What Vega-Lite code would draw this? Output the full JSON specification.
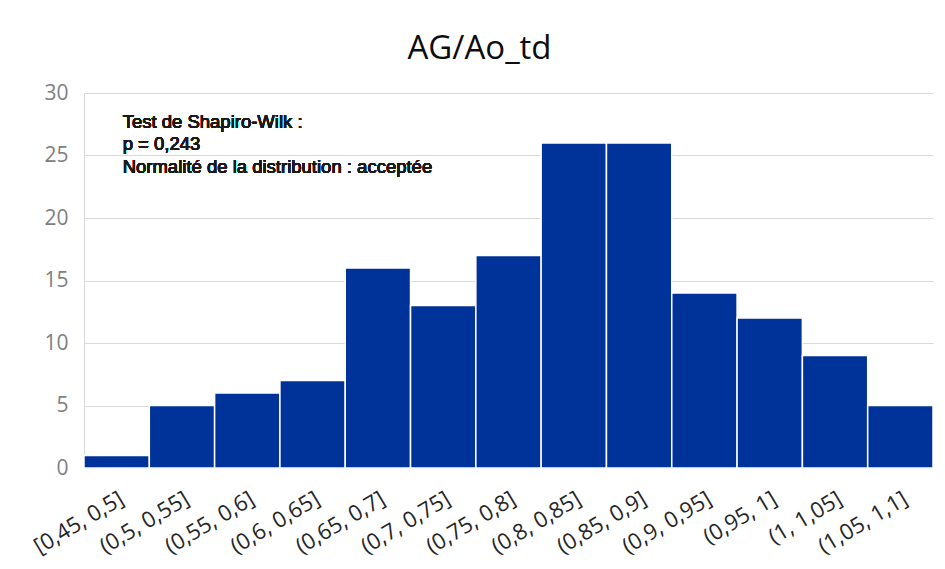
{
  "$schema": "https://vega.github.io/schema/vega-lite/v6.json",
  "width": 849,
  "height": 375,
  "autosize": {"type": "none"},
  "padding": {"left": 84, "top": 93, "right": 12, "bottom": 101},
  "background": "white",
  "title": {
    "text": "AG/Ao_td",
    "fontSize": 33,
    "font": "Open Sans",
    "fontWeight": "normal",
    "color": "#0d0d0d",
    "anchor": "middle",
    "offset": 16,
    "dx": -29
  },
  "config": {
    "view": {"stroke": null},
    "font": "Liberation Sans"
  },
  "data": {
    "values": [
      {"bin": "[0,45, 0,5]", "count": 1},
      {"bin": "(0,5, 0,55]", "count": 5},
      {"bin": "(0,55, 0,6]", "count": 6},
      {"bin": "(0,6, 0,65]", "count": 7},
      {"bin": "(0,65, 0,7]", "count": 16},
      {"bin": "(0,7, 0,75]", "count": 13},
      {"bin": "(0,75, 0,8]", "count": 17},
      {"bin": "(0,8, 0,85]", "count": 26},
      {"bin": "(0,85, 0,9]", "count": 26},
      {"bin": "(0,9, 0,95]", "count": 14},
      {"bin": "(0,95, 1]", "count": 12},
      {"bin": "(1, 1,05]", "count": 9},
      {"bin": "(1,05, 1,1]", "count": 5}
    ]
  },
  "layer": [
    {
      "mark": {"type": "bar", "color": "#003399", "stroke": "white", "strokeWidth": 1.5},
      "encoding": {
        "x": {
          "field": "bin",
          "type": "nominal",
          "sort": null,
          "scale": {"paddingInner": 0, "paddingOuter": 0},
          "axis": {
            "title": null,
            "labelAngle": -31,
            "labelFontSize": 22,
            "labelFont": "Open Sans",
            "labelColor": "#262626",
            "labelPadding": 20,
            "domain": false,
            "ticks": false
          }
        },
        "y": {
          "field": "count",
          "type": "quantitative",
          "scale": {"domain": [0, 30]},
          "axis": {
            "title": null,
            "values": [0, 5, 10, 15, 20, 25, 30],
            "labelFontSize": 21,
            "labelFont": "Open Sans",
            "labelColor": "#808080",
            "labelPadding": 16,
            "domain": true,
            "domainColor": "#d9d9d9",
            "domainWidth": 1,
            "ticks": false,
            "gridColor": "#d9d9d9",
            "gridWidth": 1
          }
        }
      }
    },
    {
      "mark": {
        "type": "text",
        "align": "left",
        "baseline": "middle",
        "fontSize": 18.5,
        "fontWeight": 400,
        "font": "Liberation Sans",
        "fill": "#1a1a1a",
        "stroke": null,
        "strokeWidth": 0,
        "lineHeight": 22.5,
        "dx": 6
      },
      "encoding": {
        "x": {"datum": "[0,45, 0,5]"},
        "y": {"datum": 27.7},
        "text": {"value": ["Test de Shapiro-Wilk :", "p = 0,243", "Normalité de la distribution : acceptée"]}
      }
    }
  ]
}
